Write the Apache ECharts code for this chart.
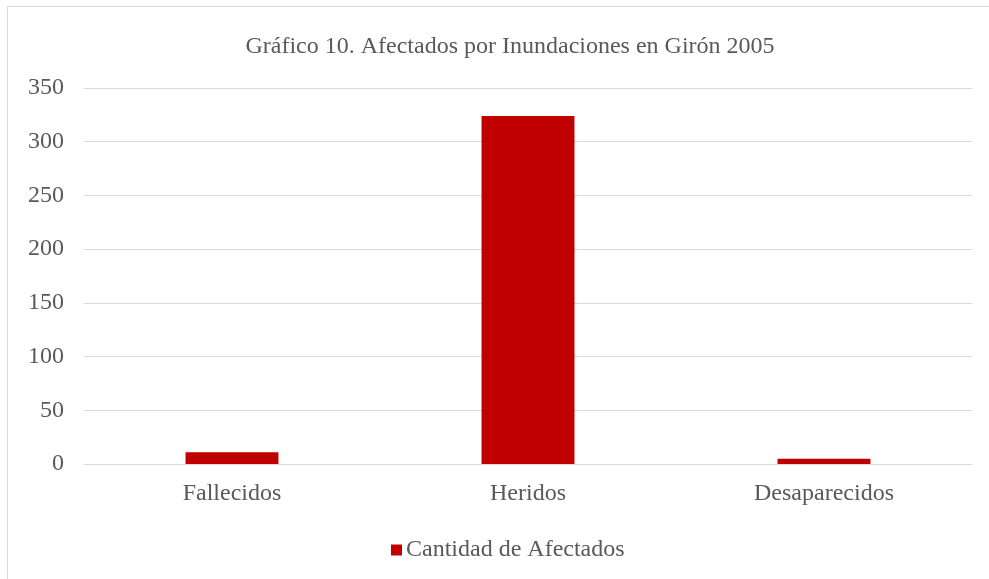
<!DOCTYPE html>
<html>
<head>
<meta charset="utf-8">
<script src="https://cdn.jsdelivr.net/npm/echarts@6/dist/echarts.min.js"></script>
<style>
  html, body { margin: 0; padding: 0; background: #fff; }
  #main { width: 989px; height: 579px; }
</style>
</head>
<body>
<div id="main"></div>
<script>
// datos del gráfico
var categorias = ["Fallecidos", "Heridos", "Desaparecidos"];
var afectados = [11, 324, 5];
var nombreSerie = "Cantidad de Afectados";
var titulo = "Gráfico 10. Afectados por Inundaciones en Girón 2005";

var myChart = echarts.init(document.getElementById("main"));
var fuente = "Liberation Serif";
var gris = "#595959";
var tam = 24;

var option = {
  animation: false,
  textStyle: { fontFamily: fuente },
  graphic: [
    {
      type: "rect",
      shape: { x: 7.5, y: 6.5, width: 1100, height: 700 },
      style: { fill: "none", stroke: "#d9d9d9", lineWidth: 1 }
    }
  ],
  title: {
    text: titulo,
    left: 505,
    top: 30,
    textAlign: "center",
    textStyle: { fontFamily: fuente, fontSize: tam, fontWeight: "normal", color: gris }
  },
  legend: {
    data: [nombreSerie],
    left: 386,
    top: 533,
    icon: "rect",
    itemWidth: 11,
    itemHeight: 11,
    itemGap: 6,
    textStyle: { fontFamily: fuente, fontSize: tam, color: gris, padding: [0, 0, 0, -1] }
  },
  grid: { left: 84, right: 17, top: 88, bottom: 115 },
  xAxis: {
    type: "category",
    data: categorias,
    axisLine: { lineStyle: { color: "#d9d9d9" } },
    axisTick: { show: false },
    axisLabel: { fontFamily: fuente, fontSize: tam, color: gris, margin: 18 }
  },
  yAxis: {
    type: "value",
    min: 0,
    max: 350,
    interval: 50,
    axisLine: { show: false },
    axisTick: { show: false },
    splitLine: { lineStyle: { color: "#d9d9d9", width: 1 } },
    axisLabel: { fontFamily: fuente, fontSize: tam, color: gris, margin: 20 }
  },
  series: [
    {
      name: nombreSerie,
      type: "bar",
      data: afectados,
      barWidth: "31.4%",
      itemStyle: { color: "#c00000" }
    }
  ]
};
myChart.setOption(option);
</script>
</body>
</html>
